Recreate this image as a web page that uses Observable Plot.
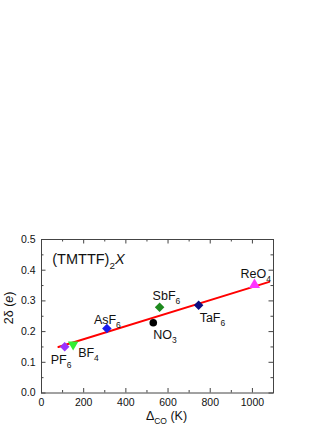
<!DOCTYPE html>
<html><head><meta charset="utf-8">
<script src="https://cdn.jsdelivr.net/npm/d3@7"></script>
<script src="https://cdn.jsdelivr.net/npm/@observablehq/plot@0.6"></script>
<style>body{margin:0;background:#fff;}</style>
</head><body><div id="chart"></div>
<script>
// ---- data ----
const salts   = ["PF_{6}", "BF_{4}", "AsF_{6}", "NO_{3}", "SbF_{6}", "TaF_{6}", "ReO_{4}"];
const deltaCO = [110, 150, 310, 530, 560, 745, 1010];   // K
const twoDelta = [0.151, 0.158, 0.210, 0.229, 0.279, 0.286, 0.352]; // e
const fitX = [80, 1080];
const fitY = [0.150, 0.362];
const xMajor = [0, 200, 400, 600, 800, 1000];
const xMinor = [100, 300, 500, 700, 900, 1100];
const yMajor = [0, 0.1, 0.2, 0.3, 0.4, 0.5];
const yMinor = [0.05, 0.15, 0.25, 0.35, 0.45];
const title = "(TMTTF)_{2}%{X}";
const xLabel = "Δ_{CO} (K)";
const yLabel = "2δ (%{e})";

// ---- styles ----
const style = {
  "PF_{6}":  {fill: "#9933ff", symbol: "square",   rotate: 45,  r: 3.8, dx: -14, dy: 13},
  "BF_{4}":  {fill: "#33ee33", symbol: "triangle", rotate: 180, r: 3.9, dx: 5,   dy: 9},
  "AsF_{6}": {fill: "#1a1aee", symbol: "square",   rotate: 45,  r: 3.8, dx: -13, dy: -9},
  "NO_{3}":  {fill: "#000000", symbol: "circle",   rotate: 0,   r: 3.8, dx: 0,   dy: 12},
  "SbF_{6}": {fill: "#1e8a1e", symbol: "square",   rotate: 45,  r: 3.8, dx: -7,  dy: -11},
  "TaF_{6}": {fill: "#0c0c80", symbol: "square",   rotate: 45,  r: 3.8, dx: 1,   dy: 13},
  "ReO_{4}": {fill: "#ff33ff", symbol: "triangle", rotate: 0,   r: 4.1, dx: -14, dy: -11}
};

const pts = salts.map((s, i) => ({name: s, x: deltaCO[i], y: twoDelta[i]}));
const fit = fitX.map((x, i) => ({x, y: fitY[i]}));

const W = 332, H = 430, mT = 239, mB = 37.5, mL = 41, mR = 59;
const xDom = [0, 1100], yDom = [0, 0.5];
const plotH = H - mT - mB, plotW = W - mL - mR;
const ty = px => px / plotH * (yDom[1] - yDom[0]);
const tx = px => px / plotW * (xDom[1] - xDom[0]);
const axisColor = "#444";

const marks = [
  Plot.frame({stroke: axisColor}),
  // ticks inward, all four sides
  Plot.ruleX(xMajor, {x: d => d, y1: yDom[0], y2: yDom[0] + ty(4.5), stroke: axisColor}),
  Plot.ruleX(xMinor, {x: d => d, y1: yDom[0], y2: yDom[0] + ty(2.5), stroke: axisColor}),
  Plot.ruleX(xMajor, {x: d => d, y1: yDom[1], y2: yDom[1] - ty(4.5), stroke: axisColor}),
  Plot.ruleX(xMinor, {x: d => d, y1: yDom[1], y2: yDom[1] - ty(2.5), stroke: axisColor}),
  Plot.ruleY(yMajor, {y: d => d, x1: xDom[0], x2: xDom[0] + tx(4.5), stroke: axisColor}),
  Plot.ruleY(yMinor, {y: d => d, x1: xDom[0], x2: xDom[0] + tx(2.5), stroke: axisColor}),
  Plot.ruleY(yMajor, {y: d => d, x1: xDom[1], x2: xDom[1] - tx(4.5), stroke: axisColor}),
  Plot.ruleY(yMinor, {y: d => d, x1: xDom[1], x2: xDom[1] - tx(2.5), stroke: axisColor}),
  Plot.axisX({ticks: xMajor, tickSize: 0, tickPadding: 6, tickFormat: d => String(d), label: null, fill: "#111"}),
  Plot.axisY({ticks: yMajor, tickSize: 0, tickPadding: 6, tickFormat: d3.format(".1f"), label: null, fill: "#111"}),
  Plot.line(fit, {x: "x", y: "y", stroke: "#ff0000", strokeWidth: 2}),
  ...pts.map(p => Plot.dot([p], {x: "x", y: "y", fill: style[p.name].fill, symbol: style[p.name].symbol,
      rotate: style[p.name].rotate, r: style[p.name].r, stroke: "none"})),
  ...pts.map(p => Plot.text([p], {x: "x", y: "y", text: "name", dx: style[p.name].dx, dy: style[p.name].dy,
      textAnchor: "start", fontSize: 12.5, fill: "#111"})),
  Plot.text([title], {x: () => 51, y: () => 0.4345, text: d => d, textAnchor: "start", fontSize: 14.5, fill: "#111"}),
  Plot.text([xLabel], {frameAnchor: "bottom", text: d => d, dy: 27, dx: 9, fontSize: 12.5, fill: "#111"}),
  Plot.text([yLabel], {frameAnchor: "left", text: d => d, dx: -33, dy: 8, rotate: -90, fontSize: 12.5, fill: "#111"})
];

const chart = Plot.plot({
  width: W, height: H,
  marginTop: mT, marginBottom: mB, marginLeft: mL, marginRight: mR,
  x: {domain: xDom},
  y: {domain: yDom},
  style: {fontFamily: "'Liberation Sans', Arial, sans-serif", fontSize: "10.5px", background: "#fff", overflow: "visible"},
  marks
});

// convert _{..} to subscripts and %{..} to italics
function richify(root) {
  const els = Array.from(root.querySelectorAll("text, tspan"))
    .filter(el => Array.from(el.childNodes).every(n => n.nodeType === 3) && /[_%]\{/.test(el.textContent));
  for (const el of els) {
    const t = el.textContent;
    const fs = parseFloat(getComputedStyle(el).fontSize) || 12;
    while (el.firstChild) el.removeChild(el.firstChild);
    const parts = t.split(/(_\{[^}]*\}|%\{[^}]*\})/).filter(s => s !== "");
    let shifted = false;
    for (const p of parts) {
      const ts = document.createElementNS("http://www.w3.org/2000/svg", "tspan");
      if (p.startsWith("_{")) {
        ts.textContent = p.slice(2, -1);
        ts.setAttribute("font-size", (fs * 0.68).toFixed(1));
        ts.setAttribute("dy", (fs * 0.32).toFixed(1));
        shifted = true;
      } else {
        ts.textContent = p.startsWith("%{") ? p.slice(2, -1) : p;
        if (p.startsWith("%{")) ts.setAttribute("font-style", "italic");
        if (shifted) { ts.setAttribute("dy", (-fs * 0.32).toFixed(1)); shifted = false; }
      }
      el.appendChild(ts);
    }
  }
}
document.getElementById("chart").appendChild(chart);
richify(chart);
</script>
</body></html>
